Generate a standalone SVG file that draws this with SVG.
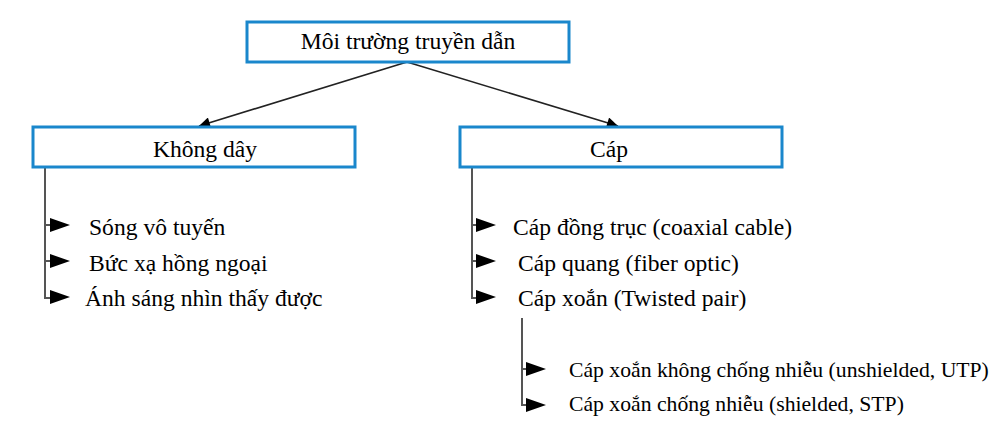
<svg xmlns="http://www.w3.org/2000/svg" width="1004" height="434" viewBox="0 0 1004 434">
<style>
.box{fill:#fff;stroke:#1a87cc;stroke-width:3}
.t{font-family:"Liberation Serif","Times New Roman",serif;font-size:23.6px;fill:#000}
.s{font-family:"Liberation Serif","Times New Roman",serif;font-size:21.7px;fill:#000}
.tree{fill:none;stroke:#555;stroke-width:2}
.arr{fill:none;stroke:#222;stroke-width:1.6}
.head{fill:#000}
</style>
<defs>
<marker id="ah" viewBox="0 0 10 10" refX="10" refY="5" markerWidth="15" markerHeight="11" markerUnits="userSpaceOnUse" orient="auto"><path d="M0,0 L10,5 L0,10 Z" fill="#000"/></marker>
</defs>
<rect width="1004" height="434" fill="#fff"/>
<g id="connectors">
<path class="arr" d="M407,62 L199,126" marker-end="url(#ah)"/>
<path class="arr" d="M407,62 L618,126" marker-end="url(#ah)"/>
<path class="tree" d="M45,167 V298 H52 M45,225 H52 M45,261 H52"/>
<path class="head" d="M50,218 L70,225 L50,232 Z M50,254 L70,261 L50,268 Z M50,290 L70,297 L50,304 Z"/>
<path class="tree" d="M472,167 V298 H478 M472,225 H478 M472,261 H478"/>
<path class="head" d="M476,218 L496,225 L476,232 Z M476,254 L496,261 L476,268 Z M476,290 L496,297 L476,304 Z"/>
<path class="tree" d="M522,318 V405 H528 M522,369 H528"/>
<path class="head" d="M526,362 L546,369 L526,376 Z M526,398 L546,405 L526,412 Z"/>
</g>
<g id="root">
<rect class="box" x="247" y="22" width="322" height="40"/>
<text class="t" x="408" y="49" text-anchor="middle">Môi trường truyền dẫn</text>
</g>
<g id="khong-day">
<rect class="box" x="33" y="127" width="322" height="40"/>
<text class="t" x="205" y="157" text-anchor="middle">Không dây</text>
</g>
<g id="cap">
<rect class="box" x="460" y="127" width="322" height="40"/>
<text class="t" x="609" y="157" text-anchor="middle">Cáp</text>
</g>
<g id="wireless-items">
<text class="t" x="89" y="235">Sóng vô tuyến</text>
<text class="t" x="89" y="271">Bức xạ hồng ngoại</text>
<text class="t" x="85" y="306">Ánh sáng nhìn thấy được</text>
</g>
<g id="cable-items">
<text class="t" x="513" y="235">Cáp đồng trục (coaxial cable)</text>
<text class="t" x="518" y="271">Cáp quang (fiber optic)</text>
<text class="t" x="518" y="306">Cáp xoắn (Twisted pair)</text>
</g>
<g id="twisted-items">
<text class="s" x="569" y="377">Cáp xoắn không chống nhiễu (unshielded, UTP)</text>
<text class="s" x="569" y="411">Cáp xoắn chống nhiễu (shielded, STP)</text>
</g>
</svg>
